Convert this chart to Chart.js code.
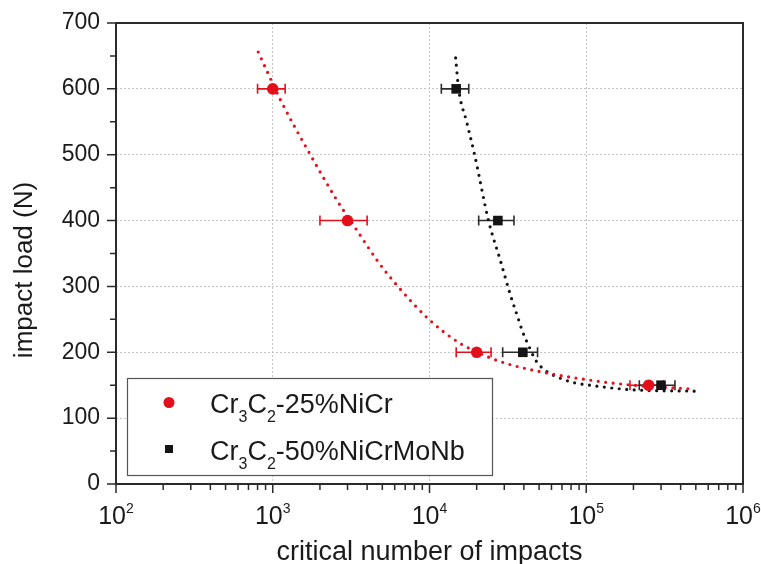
<!DOCTYPE html>
<html>
<head>
<meta charset="utf-8">
<script src="https://cdn.jsdelivr.net/npm/chart.js@4.4.0/dist/chart.umd.min.js"></script>
<style>
html, body { margin: 0; padding: 0; background: #fff; }
#wrap { width: 761px; height: 564px; }
</style>
</head>
<body>
<div id="wrap"><canvas id="chart" width="761" height="564"></canvas></div>
<script>
// ============ DATA ============
const LOADS = [600, 400, 200, 150];

// Cr3C2-25%NiCr
const IMPACTS_NICR = [1000, 3000, 20000, 250000];
const ERR_LO_NICR  = [800, 2000, 14800, 190000];
const ERR_HI_NICR  = [1200, 4000, 24700, 310000];

// Cr3C2-50%NiCrMoNb
const IMPACTS_MONB = [14800, 27300, 39400, 300000];
const ERR_LO_MONB  = [11900, 20600, 29300, 218000];
const ERR_HI_MONB  = [17800, 34600, 48900, 368000];

// fitted curves
const FIT_NICR_X = [808, 978, 1121, 1718, 2566, 3493, 4685, 6285, 10015, 15570, 23040, 31980, 54830, 118800, 198700, 491800];
const FIT_NICR_Y = [656, 613, 583, 502, 431, 383, 338, 300, 249, 214, 194, 182, 169, 156, 150, 144];
const FIT_MONB_X = [14680, 15340, 17250, 19400, 23840, 28020, 32930, 36490, 39290, 42900, 47540, 55060, 67650, 83080, 105100, 197800, 491700];
const FIT_MONB_Y = [647, 600, 550, 500, 399, 343, 286, 254, 231, 210, 188, 172, 161, 154, 150, 143, 141];

// tick labels on the log axis: 10^n
const X_TICK_VALUES = [100, 1000, 10000, 100000, 1000000];
const X_TICK_EXP    = ['2', '3', '4', '5', '6'];

// legend names, [text, isSubscript]
const NAME_NICR = [['Cr', 0], ['3', 1], ['C', 0], ['2', 1], ['-25%NiCr', 0]];
const NAME_MONB = [['Cr', 0], ['3', 1], ['C', 0], ['2', 1], ['-50%NiCrMoNb', 0]];

const X_TITLE = 'critical number of impacts';
const Y_TITLE = 'impact load (N)';

const RED = '#e3101b';
const BLACK = '#141414';
const AXIS = '#2a2a2a';
const TEXT = '#1a1a1a';
const FONT = '"Liberation Sans", Arial, sans-serif';

function pts(xs, ys) { return xs.map((x, i) => ({ x: x, y: ys[i] })); }

// ============ PLUGINS ============
const errorBars = {
    id: 'errorBars',
    beforeDatasetsDraw(chart) {
        const ctx = chart.ctx;
        const xs = chart.scales.x, ys = chart.scales.y;
        const sets = [
            [ERR_LO_NICR, ERR_HI_NICR, RED],
            [ERR_LO_MONB, ERR_HI_MONB, '#2b2b2b']
        ];
        ctx.save();
        ctx.lineWidth = 1.6;
        sets.forEach(([lo, hi, col]) => {
            ctx.strokeStyle = col;
            LOADS.forEach((load, i) => {
                const py = ys.getPixelForValue(load);
                const x1 = xs.getPixelForValue(lo[i]);
                const x2 = xs.getPixelForValue(hi[i]);
                ctx.beginPath();
                ctx.moveTo(x1, py); ctx.lineTo(x2, py);
                ctx.moveTo(x1, py - 5); ctx.lineTo(x1, py + 5);
                ctx.moveTo(x2, py - 5); ctx.lineTo(x2, py + 5);
                ctx.stroke();
            });
        });
        ctx.restore();
    }
};

const frameTicks = {
    id: 'frameTicks',
    afterDatasetsDraw(chart) {
        const ctx = chart.ctx;
        const {left, right, top, bottom} = chart.chartArea;
        const xs = chart.scales.x, ys = chart.scales.y;
        ctx.save();
        ctx.strokeStyle = AXIS;
        ctx.lineWidth = 2;
        ctx.strokeRect(left, top, right - left, bottom - top);
        ctx.lineWidth = 1.5;
        ctx.beginPath();
        ys.ticks.forEach(t => {
            const py = ys.getPixelForValue(t.value);
            const len = t.value % 100 === 0 ? 9 : 6;
            ctx.moveTo(left - len, py); ctx.lineTo(left, py);
        });
        for (let e = 2; e <= 5; e++) {
            for (let m = 1; m <= 9; m++) {
                const px = xs.getPixelForValue(m * Math.pow(10, e));
                const len = m === 1 ? 9 : 6;
                ctx.moveTo(px, bottom); ctx.lineTo(px, bottom + len);
            }
        }
        ctx.moveTo(right, bottom); ctx.lineTo(right, bottom + 9);
        ctx.stroke();
        ctx.restore();
    }
};

const axisText = {
    id: 'axisText',
    afterDraw(chart) {
        const ctx = chart.ctx;
        const {left, right} = chart.chartArea;
        const xs = chart.scales.x;
        ctx.save();
        ctx.fillStyle = TEXT;
        ctx.textBaseline = 'alphabetic';
        // 10^n labels
        X_TICK_VALUES.forEach((v, i) => {
            const px = xs.getPixelForValue(v);
            ctx.font = '25px ' + FONT;
            const w1 = ctx.measureText('10').width;
            ctx.font = '14px ' + FONT;
            const w2 = ctx.measureText(X_TICK_EXP[i]).width;
            const x0 = px - (w1 + w2) / 2;
            ctx.textAlign = 'left';
            ctx.font = '25px ' + FONT;
            ctx.fillText('10', x0, 524);
            ctx.font = '14px ' + FONT;
            ctx.fillText(X_TICK_EXP[i], x0 + w1, 513);
        });
        // axis titles
        ctx.textAlign = 'center';
        ctx.font = '27px ' + FONT;
        ctx.fillText(X_TITLE, (left + right) / 2, 560);
        ctx.font = '26px ' + FONT;
        ctx.translate(32, 270);
        ctx.rotate(-Math.PI / 2);
        ctx.fillText(Y_TITLE, 0, 0);
        ctx.restore();
    }
};

const legendBox = {
    id: 'legendBox',
    afterDraw(chart) {
        const ctx = chart.ctx;
        ctx.save();
        ctx.fillStyle = '#fff';
        ctx.fillRect(127, 378, 365, 98);
        ctx.strokeStyle = '#555';
        ctx.lineWidth = 1.2;
        ctx.strokeRect(127.5, 378.5, 365, 97);
        // markers
        ctx.fillStyle = RED;
        ctx.beginPath(); ctx.arc(169, 402.5, 5.5, 0, Math.PI * 2); ctx.fill();
        ctx.fillStyle = BLACK;
        ctx.fillRect(165, 445, 8, 8);
        // names with subscripts
        const rows = [[NAME_NICR, 412.5], [NAME_MONB, 459.5]];
        ctx.fillStyle = TEXT;
        ctx.textAlign = 'left';
        rows.forEach(([parts, base]) => {
            let x = 210;
            parts.forEach(([txt, sub]) => {
                ctx.font = (sub ? '16px ' : '27px ') + FONT;
                ctx.fillText(txt, x, sub ? base + 9 : base);
                x += ctx.measureText(txt).width;
            });
        });
        ctx.restore();
    }
};

// ============ CHART ============
const chart = new Chart(document.getElementById('chart'), {
    type: 'scatter',
    data: {
        datasets: [
            {
                label: 'Cr3C2-25%NiCr',
                data: pts(IMPACTS_NICR, LOADS),
                pointStyle: 'circle',
                pointRadius: 5.8,
                backgroundColor: RED,
                borderColor: RED,
                borderWidth: 0,
                order: 0
            },
            {
                label: 'Cr3C2-50%NiCrMoNb',
                data: pts(IMPACTS_MONB, LOADS),
                pointStyle: 'rect',
                pointRadius: 6.8,
                backgroundColor: BLACK,
                borderColor: BLACK,
                borderWidth: 0,
                order: 0
            },
            {
                label: 'fit 25%NiCr',
                data: pts(FIT_NICR_X, FIT_NICR_Y),
                showLine: true,
                pointRadius: 0,
                borderColor: RED,
                borderWidth: 3.2,
                borderDash: [0, 7.5],
                borderCapStyle: 'round',
                cubicInterpolationMode: 'monotone',
                fill: false,
                order: 1
            },
            {
                label: 'fit 50%NiCrMoNb',
                data: pts(FIT_MONB_X, FIT_MONB_Y),
                showLine: true,
                pointRadius: 0,
                borderColor: BLACK,
                borderWidth: 3.2,
                borderDash: [0, 7.5],
                borderCapStyle: 'round',
                cubicInterpolationMode: 'monotone',
                fill: false,
                order: 1
            }
        ]
    },
    options: {
        responsive: false,
        animation: false,
        layout: { padding: { top: 23, right: 18, left: 0, bottom: 0 } },
        plugins: {
            legend: { display: false },
            tooltip: { enabled: false }
        },
        scales: {
            x: {
                type: 'logarithmic',
                min: 100,
                max: 1000000,
                afterBuildTicks: s => { s.ticks = X_TICK_VALUES.map(v => ({ value: v })); },
                afterFit: s => { s.height = 80; s.paddingLeft = 0; s.paddingRight = 0; },
                ticks: { display: false },
                grid: {
                    color: c => (c.tick && c.tick.value > 100 && c.tick.value < 1000000) ? '#c4c4c4' : 'rgba(0,0,0,0)',
                    lineWidth: 1,
                    drawTicks: false
                },
                border: { display: false, dash: [2, 2] }
            },
            y: {
                min: 0,
                max: 700,
                afterFit: s => { s.width = 116; s.paddingTop = 0; s.paddingBottom = 0; },
                ticks: {
                    stepSize: 50,
                    padding: 16,
                    color: TEXT,
                    font: { family: FONT, size: 23 },
                    callback: v => (v % 100 === 0 ? v : '')
                },
                grid: {
                    color: c => (c.tick && c.tick.value % 100 === 0 && c.tick.value > 0 && c.tick.value < 700) ? '#c4c4c4' : 'rgba(0,0,0,0)',
                    lineWidth: 1,
                    drawTicks: false
                },
                border: { display: false, dash: [2, 2] }
            }
        }
    },
    plugins: [errorBars, frameTicks, axisText, legendBox]
});
</script>
</body>
</html>
